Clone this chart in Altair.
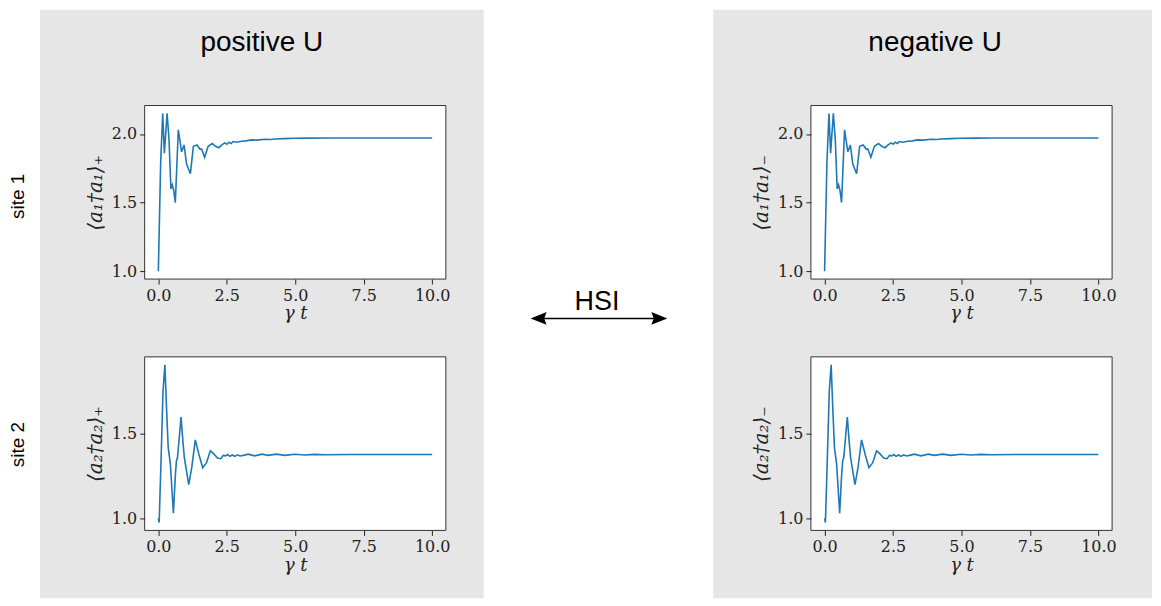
import altair as alt
import pandas as pd

# ---- data ----
t_site1 = [0, 0.085, 0.16, 0.22, 0.32, 0.39, 0.46, 0.51, 0.56, 0.62, 0.73, 0.85, 0.94, 1.03,
           1.17, 1.28, 1.41, 1.52, 1.58, 1.69, 1.82, 1.97, 2.09, 2.21, 2.32, 2.43, 2.5, 2.58,
           2.66, 2.73, 2.85, 3.04, 3.2, 3.4, 3.6, 3.89, 4.1, 4.25, 4.6, 4.98, 5.5, 6.08, 7.0,
           8.0, 9.0, 10.0]
v_site1 = [1.0, 1.79, 2.15, 1.86, 2.15, 1.96, 1.60, 1.63, 1.59, 1.50, 2.03, 1.87, 1.92, 1.78,
           1.71, 1.91, 1.92, 1.89, 1.89, 1.83, 1.91, 1.93, 1.91, 1.90, 1.92, 1.935, 1.925, 1.94,
           1.93, 1.945, 1.94, 1.947, 1.95, 1.957, 1.955, 1.962, 1.96, 1.964, 1.966, 1.969, 1.97,
           1.971, 1.971, 1.971, 1.971, 1.971]

t_site2 = [0, 0.03, 0.1, 0.17, 0.24, 0.30, 0.36, 0.44, 0.55, 0.62, 0.66, 0.70, 0.76, 0.83,
           0.90, 0.95, 1.11, 1.22, 1.35, 1.48, 1.62, 1.76, 1.90, 2.00, 2.16, 2.28, 2.37, 2.45,
           2.53, 2.61, 2.70, 2.79, 2.89, 2.98, 3.10, 3.28, 3.52, 3.79, 4.01, 4.31, 4.62, 4.98,
           5.35, 5.7, 6.08, 7.0, 8.0, 9.0, 10.0]
v_site2 = [1.0, 0.975, 1.35, 1.75, 1.91, 1.65, 1.42, 1.32, 1.03, 1.25, 1.34, 1.36, 1.47, 1.60,
           1.45, 1.36, 1.20, 1.30, 1.465, 1.38, 1.30, 1.33, 1.40, 1.386, 1.357, 1.353, 1.373,
           1.37, 1.378, 1.367, 1.375, 1.367, 1.376, 1.369, 1.373, 1.380, 1.370, 1.380, 1.373,
           1.380, 1.373, 1.380, 1.375, 1.379, 1.377, 1.378, 1.378, 1.378, 1.378]

x_ticks = [0, 2.5, 5, 7.5, 10]
y_ticks_site1 = [1.0, 1.5, 2.0]
y_ticks_site2 = [1.0, 1.5]

panel_titles = ["positive U", "negative U"]
row_labels = ["site 1", "site 2"]
y_titles = [["⟨a₁†a₁⟩₊", "⟨a₂†a₂⟩₊"], ["⟨a₁†a₁⟩₋", "⟨a₂†a₂⟩₋"]]
middle_label = "HSI"

W, H = 302, 174
GREY = "#e6e6e6"
SERIF = "DejaVu Serif"
SANS = "Liberation Sans"


def one():
    return alt.Data(values=[{"k": 0}])


def padded(vals):
    lo, hi = min(vals), max(vals)
    m = (hi - lo) * 0.05
    return [lo - m, hi + m]


def rect(x, x2, y, y2, fill):
    return alt.Chart(one()).mark_rect(color=fill).encode(
        x=alt.value(x), x2=alt.value(x2), y=alt.value(y), y2=alt.value(y2))


def text(s, x, y, size, font=SANS, angle=0, baseline="alphabetic"):
    return alt.Chart(one()).mark_text(
        text=s, font=font, fontSize=size, color="black", align="center",
        baseline=baseline, angle=angle).encode(x=alt.value(x), y=alt.value(y))


def panel(ts, vs, yticks, ytitle, before=(), after=()):
    df = pd.DataFrame({"t": ts, "v": vs})
    axis_common = dict(
        zindex=1, grid=False, domain=False, tickSize=5, tickColor="#222",
        labelFont=SERIF, labelFontSize=16, labelColor="#222", labelPadding=3,
        titleFont=SERIF, titleFontStyle="italic",
        titleFontWeight="normal", titleColor="#222", format=".1f", labelFlush=False)
    line = alt.Chart(df).mark_line(color="#1f77b4", strokeWidth=1.6).encode(
        x=alt.X("t:Q", scale=alt.Scale(domain=[-0.5, 10.5], nice=False, zero=False),
                axis=alt.Axis(values=x_ticks, title="γ t", titlePadding=2, titleFontSize=18,
                              **axis_common)),
        y=alt.Y("v:Q", scale=alt.Scale(domain=padded(vs), nice=False, zero=False),
                axis=alt.Axis(values=yticks, title=ytitle, titlePadding=6, titleFontSize=20,
                              **axis_common)),
    )
    bg = rect(0, W, 0, H, "white")
    frame = alt.Chart(one()).mark_rect(fill="white", fillOpacity=0, stroke="#333",
                                       strokeWidth=1).encode(
        x=alt.value(0), x2=alt.value(W), y=alt.value(0), y2=alt.value(H))
    return alt.layer(*before, bg, line, frame, *after).properties(width=W, height=H)


# decorations drawn from the top-left panel (coordinates relative to its plot area)
arrow_y = 213.5
left_head = alt.Chart(one()).mark_point(
    shape="M-1,0L1,-0.8L0.7,0L1,0.8Z", filled=True, size=256, color="black", opacity=1
).encode(x=alt.value(395), y=alt.value(arrow_y))
right_head = alt.Chart(one()).mark_point(
    shape="M1,0L-1,-0.8L-0.7,0L-1,0.8Z", filled=True, size=256, color="black", opacity=1
).encode(x=alt.value(516), y=alt.value(arrow_y))
shaft = alt.Chart(one()).mark_rule(color="black", strokeWidth=1.5).encode(
    x=alt.value(392), x2=alt.value(519), y=alt.value(arrow_y))

tl = panel(
    t_site1, v_site1, y_ticks_site1, y_titles[0][0],
    before=[rect(-105, 340, -96, 494, GREY), rect(-135, -105, -96, 494, "white")],
    after=[text(panel_titles[0], 117.5, -55, 28),
           text(row_labels[0], -127, 91, 19, angle=270, baseline="middle"),
           text(row_labels[1], -127, 340, 19, angle=270, baseline="middle"),
           text(middle_label, 453.5, 205, 27),
           shaft, left_head, right_head],
)
bl = panel(t_site2, v_site2, y_ticks_site2, y_titles[0][1])
tr = panel(
    t_site1, v_site1, y_ticks_site1, y_titles[1][0],
    before=[rect(-98, 342, -96, 494, GREY)],
    after=[text(panel_titles[1], 124.5, -55, 28)],
)
br = panel(t_site2, v_site2, y_ticks_site2, y_titles[1][1])

chart = alt.concat(tl, tr, bl, br, columns=2, bounds="flush",
                   spacing={"row": 78, "column": 366}).properties(
    padding=0, background="white"
).configure_view(stroke="transparent")

chart.save("out.html", embed_options={"renderer": "svg", "actions": False})
